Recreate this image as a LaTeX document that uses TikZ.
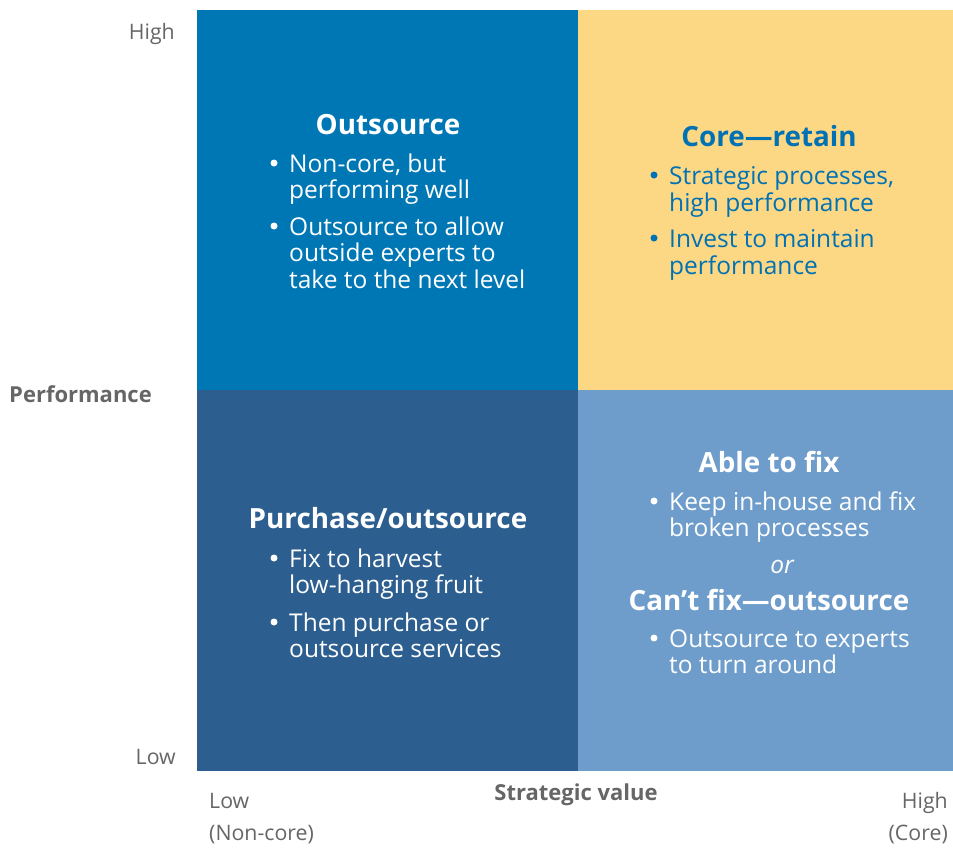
\documentclass[tikz,border=0pt]{standalone}
\usepackage{fontspec}
\setmainfont{Open Sans}
\definecolor{qblue}{HTML}{0077B5}
\definecolor{qyellow}{HTML}{FCD784}
\definecolor{qnavy}{HTML}{2C5F8F}
\definecolor{qsky}{HTML}{6E9DCB}
\definecolor{axisgray}{HTML}{666666}
\definecolor{coreblue}{HTML}{0071B3}
\tikzset{
  x=1pt, y=-1pt,
  ttl/.style={font=\fontsize{27.8}{32}\selectfont\bfseries, anchor=base, inner sep=0pt},
  txt/.style={font=\fontsize{24.5}{28}\selectfont, anchor=base west, inner sep=0pt},
  dotmark/.style={circle, fill=#1, inner sep=0pt, minimum size=7pt},
  axl/.style={font=\fontsize{21.3}{24}\selectfont, text=axisgray, inner sep=0pt},
  axb/.style={font=\fontsize{22}{26}\selectfont\bfseries, text=axisgray, inner sep=0pt},
}
% bullet item line: name, colour, x of text, baseline, text
\newcommand{\bulletline}[5]{%
  \node[dotmark=#2] (#1b) at (#3-15,#4-9) {};
  \node[txt, text=#2] (#1) at (#3,#4) {#5};}
\begin{document}
\begin{tikzpicture}
\useasboundingbox (0,0) rectangle (953,847);
\fill[white] (0,0) rectangle (953,847);

% quadrants
\fill[qblue]   (197,10)  rectangle (578,390);
\fill[qyellow] (578,10)  rectangle (953,390);
\fill[qnavy]   (197,390) rectangle (578,771);
\fill[qsky]    (578,390) rectangle (953,771);

% top left: outsource
\begin{scope}[every node/.append style={text=white}]
\node[ttl] (tlT) at (388,134) {Outsource};
\bulletline{tlA}{white}{289}{172}{Non-core, but}
\node[txt] (tlA2) at (289,198) {performing well};
\bulletline{tlB}{white}{289}{235}{Outsource to allow}
\node[txt] (tlB2) at (289,261) {outside experts to};
\node[txt] (tlB3) at (289,288) {take to the next level};
\end{scope}

% top right: core, retain
\begin{scope}[every node/.append style={text=coreblue}]
\node[ttl] (trT) at (769,146) {Core—retain};
\bulletline{trA}{coreblue}{669}{184}{Strategic processes,}
\node[txt] (trA2) at (669,211) {high performance};
\bulletline{trB}{coreblue}{669}{247}{Invest to maintain}
\node[txt] (trB2) at (669,274) {performance};
\end{scope}

% bottom left: purchase or outsource
\begin{scope}[every node/.append style={text=white}]
\node[ttl] (blT) at (388,528) {Purchase/outsource};
\bulletline{blA}{white}{289}{567}{Fix to harvest}
\node[txt] (blA2) at (289,593) {low-hanging fruit};
\bulletline{blB}{white}{289}{631}{Then purchase or}
\node[txt] (blB2) at (289,657) {outsource services};
\end{scope}

% bottom right: fix or outsource
\begin{scope}[every node/.append style={text=white}]
\node[ttl] (brT) at (769,472) {Able to fix};
\bulletline{brA}{white}{669}{510}{Keep in-house and fix}
\node[txt] (brA2) at (669,536) {broken processes};
\node[anchor=base, inner sep=0pt, font=\fontsize{24.5}{28}\selectfont\itshape] (brOr) at (782,573) {or};
\node[ttl] (brT2) at (769,610) {Can’t fix—outsource};
\bulletline{brB}{white}{669}{647}{Outsource to experts}
\node[txt] (brB2) at (669,673) {to turn around};
\end{scope}

% axis labels
\node[axl, anchor=base east] (yHigh) at (175,39) {High};
\node[axl, anchor=base east] (yLow) at (176,764) {Low};
\node[axb, anchor=base west] (yTitle) at (9,402) {Performance};
\node[axl, anchor=base west] (xLow) at (209,808) {Low};
\node[axl, anchor=base west] (xLow2) at (209,840) {(Non-core)};
\node[axb, anchor=base] (xTitle) at (576,800) {Strategic value};
\node[axl, anchor=base east] (xHigh) at (948,808) {High};
\node[axl, anchor=base east] (xHigh2) at (948,840) {(Core)};
\end{tikzpicture}
\end{document}
